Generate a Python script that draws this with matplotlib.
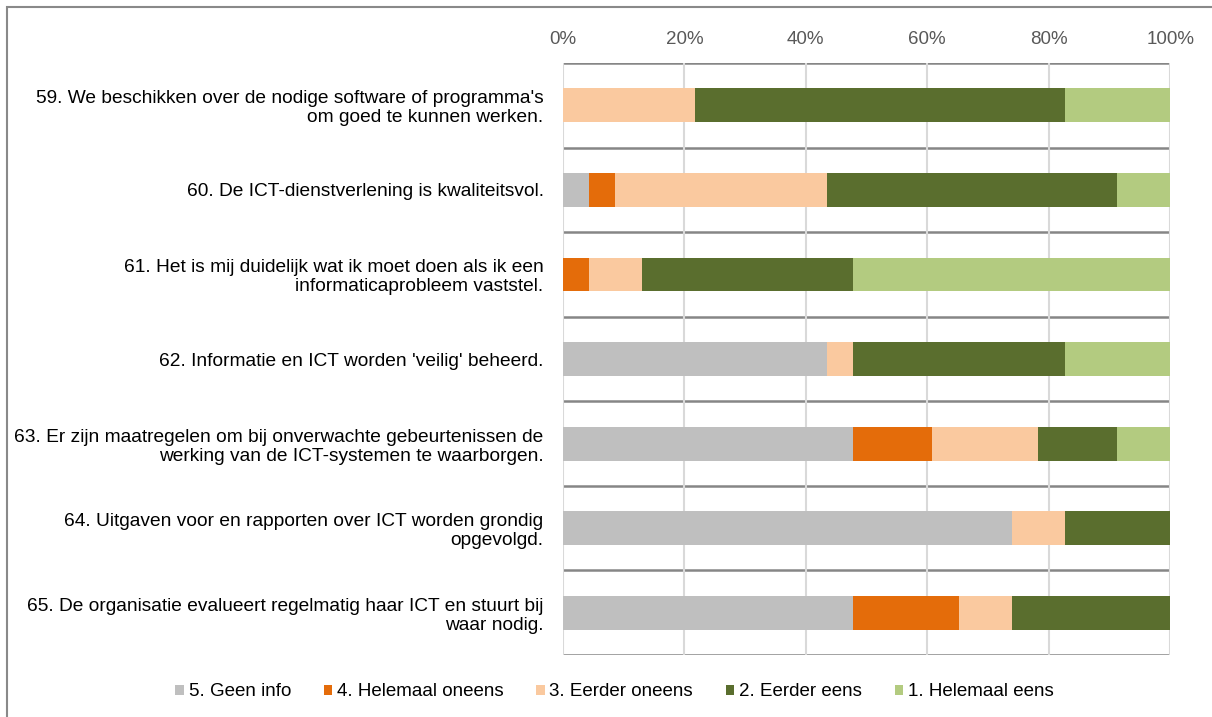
import matplotlib.pyplot as plt
import numpy as np

plt.rcParams['font.family'] = ['Liberation Sans', 'DejaVu Sans']

questions = [
    "59. We beschikken over de nodige software of programma's\nom goed te kunnen werken.",
    "60. De ICT-dienstverlening is kwaliteitsvol.",
    "61. Het is mij duidelijk wat ik moet doen als ik een\ninformaticaprobleem vaststel.",
    "62. Informatie en ICT worden 'veilig' beheerd.",
    "63. Er zijn maatregelen om bij onverwachte gebeurtenissen de\nwerking van de ICT-systemen te waarborgen.",
    "64. Uitgaven voor en rapporten over ICT worden grondig\nopgevolgd.",
    "65. De organisatie evalueert regelmatig haar ICT en stuurt bij\nwaar nodig.",
]
series_names = ["5. Geen info", "4. Helemaal oneens", "3. Eerder oneens",
                "2. Eerder eens", "1. Helemaal eens"]
colors = ["#BFBFBF", "#E46C0A", "#FAC99F", "#5A6E2E", "#B3CB80"]

# percentages per question (share of responses)
geen_info = [0, 4.3, 0, 43.5, 47.8, 73.9, 47.8]
helemaal_oneens = [0, 4.3, 4.3, 0, 13.0, 0, 17.4]
eerder_oneens = [21.7, 34.8, 8.7, 4.3, 17.4, 8.7, 8.7]
eerder_eens = [60.9, 47.8, 34.8, 34.8, 13.0, 17.4, 26.1]
helemaal_eens = [17.4, 8.7, 52.2, 17.4, 8.7, 0, 0]

data = [geen_info, helemaal_oneens, eerder_oneens, eerder_eens, helemaal_eens]

fs = 13.8
fig = plt.figure(figsize=(12.12, 7.17), dpi=100)
ax = fig.add_axes([0.4645, 0.0865, 0.501, 0.8255])

y = np.arange(len(questions))
left = np.zeros(len(questions))
for vals, name, c in zip(data, series_names, colors):
    vals = np.array(vals)
    ax.barh(y, vals, left=left, height=0.4, color=c, label=name, zorder=3)
    left += vals

ax.set_xlim(0, 100)
ax.set_ylim(len(questions) - 0.5, -0.5)
ax.set_xticks(range(0, 101, 20))
ax.set_xticklabels([f"{t}%" for t in range(0, 101, 20)], color='#595959', fontsize=13.5)
ax.xaxis.tick_top()
ax.tick_params(axis='x', length=0, pad=11)
ax.set_yticks(y)
ax.set_yticklabels(questions, fontsize=fs, ha='right', multialignment='right',
                   linespacing=1.15)
ax.tick_params(axis='y', length=0, pad=14)
ax.grid(axis='x', color='#D9D9D9', lw=1.5, zorder=0)
for b in np.arange(-0.5, len(questions), 1):
    ax.axhline(b, color='#868686', lw=1.8, zorder=1)
for s in ax.spines.values():
    s.set_visible(False)

fig.legend(loc='center', bbox_to_anchor=(0.507, 0.035), ncol=5, frameon=False,
           fontsize=13.5, handlelength=0.45, handleheight=0.45, handletextpad=0.25,
           columnspacing=1.75)

fig.patches.append(plt.Rectangle((0.006, -0.01), 1.0, 1.0, transform=fig.transFigure,
                                 fill=False, edgecolor='#898989', lw=1.5))

fig.savefig('out.png', dpi=100)
